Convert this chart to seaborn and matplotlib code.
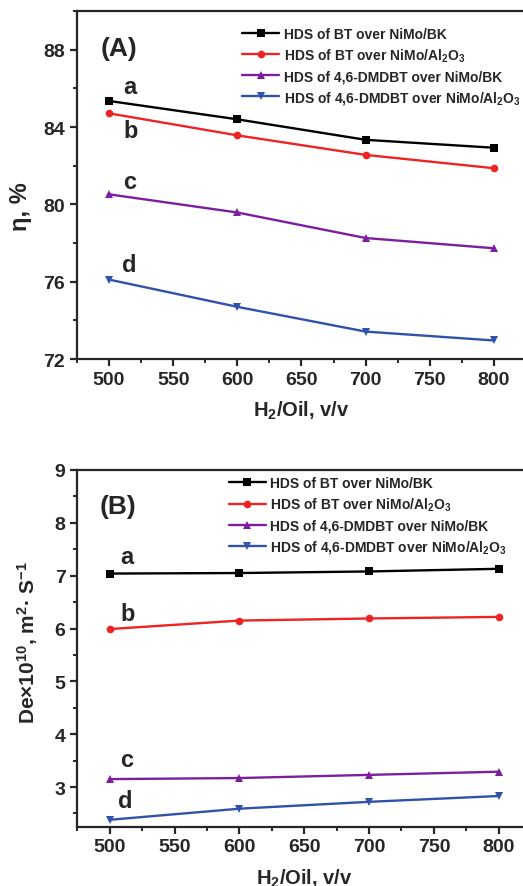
import numpy as np
import pandas as pd
import matplotlib
matplotlib.use('Agg')
import matplotlib.pyplot as plt
import seaborn as sns
from matplotlib.ticker import MultipleLocator

sns.set_style('ticks')
plt.rcParams['font.family'] = ['Liberation Sans', 'DejaVu Sans']
plt.rcParams['font.weight'] = 'bold'
plt.rcParams['axes.labelweight'] = 'bold'
plt.rcParams['mathtext.default'] = 'regular'

# data
h2_oil = [500, 600, 700, 800]
series = ['HDS of BT over NiMo/BK',
          'HDS of BT over NiMo/Al$_2$O$_3$',
          'HDS of 4,6-DMDBT over NiMo/BK',
          'HDS of 4,6-DMDBT over NiMo/Al$_2$O$_3$']
curve_tags = ['a', 'b', 'c', 'd']

eta_bt_bk = [85.35, 84.40, 83.34, 82.93]
eta_bt_al = [84.71, 83.57, 82.56, 81.87]
eta_dm_bk = [80.52, 79.58, 78.26, 77.73]
eta_dm_al = [76.11, 74.70, 73.42, 72.96]

de_bt_bk = [7.04, 7.05, 7.08, 7.13]
de_bt_al = [5.99, 6.15, 6.19, 6.22]
de_dm_bk = [3.15, 3.17, 3.23, 3.29]
de_dm_al = [2.38, 2.59, 2.72, 2.83]

colors = ['black', '#EE2424', '#7B1FA0', '#3152AA']
markers = ['s', 'o', '^', 'v']


def make_df(cols):
    rows = []
    for name, vals in zip(series, cols):
        for x, v in zip(h2_oil, vals):
            rows.append({'H2/Oil': x, 'value': v, 'series': name})
    return pd.DataFrame(rows)


df_eta = make_df([eta_bt_bk, eta_bt_al, eta_dm_bk, eta_dm_al])
df_de = make_df([de_bt_bk, de_bt_al, de_dm_bk, de_dm_al])

fig = plt.figure(figsize=(5.23, 8.87), dpi=100)
axA = fig.add_axes([0.1472, 0.5941, 0.8585, 0.3923])
axB = fig.add_axes([0.148, 0.0669, 0.8675, 0.4021])


def draw(ax, df, ylim, major, minor, ylabel, ylsize, ylcoords, panel, panel_pos,
         tag_pos, leg_anchor):
    sns.lineplot(data=df, x='H2/Oil', y='value', hue='series', style='series',
                 hue_order=series, style_order=series,
                 palette=colors, markers=markers, dashes=False,
                 markersize=5.5, markeredgewidth=0, linewidth=1.7, ax=ax)
    ax.set_xlim(475, 825)
    ax.set_ylim(*ylim)
    ax.xaxis.set_major_locator(MultipleLocator(50))
    ax.xaxis.set_minor_locator(MultipleLocator(25))
    ax.yaxis.set_major_locator(MultipleLocator(major))
    ax.yaxis.set_minor_locator(MultipleLocator(minor))
    for s in ax.spines.values():
        s.set_linewidth(1.6)
    ax.spines['right'].set_visible(False)
    ax.tick_params(which='major', direction='out', length=5, width=1.6,
                   labelsize=14, top=False, right=False)
    ax.tick_params(which='minor', direction='out', length=3, width=1.4,
                   top=False, right=False)
    for lab in ax.get_xticklabels() + ax.get_yticklabels():
        lab.set_fontweight('bold')
    ax.set_xlabel('H$_2$/Oil, v/v', fontsize=14.5, fontweight='bold', labelpad=8)
    ax.set_ylabel(ylabel, fontsize=ylsize, fontweight='bold')
    ax.yaxis.set_label_coords(*ylcoords)
    ax.text(panel_pos[0], panel_pos[1], panel, transform=ax.transAxes,
            fontsize=19, fontweight='bold', ha='center', va='center')
    for t, (tx, ty) in zip(curve_tags, tag_pos):
        ax.text(tx, ty, t, fontsize=17, fontweight='bold', ha='center', va='center')
    leg = ax.legend(loc='upper left', bbox_to_anchor=leg_anchor, frameon=False,
                    fontsize=10, handlelength=2.7, handletextpad=0.3,
                    labelspacing=0.4, borderaxespad=0)
    for txt in leg.get_texts():
        txt.set_fontweight('bold')


draw(axA, df_eta, (72, 90), 4, 2, '\u03b7, %', 17, (-0.10, 0.44), '(A)',
     (0.094, 0.895),
     [(516, 86.1), (517, 83.8), (516, 81.2), (516, 76.9)], (0.355, 0.971))
draw(axB, df_de, (2.25, 9), 1, 0.5,
     'De\u00d710$^{10}$, m$^{2}$\u00b7 S$^{-1}$', 15, (-0.082, 0.52), '(B)',
     (0.09, 0.9),
     [(513, 7.36), (514, 6.28), (513, 3.53), (512, 2.74)], (0.321, 0.998))

fig.savefig('out.png', dpi=100)
